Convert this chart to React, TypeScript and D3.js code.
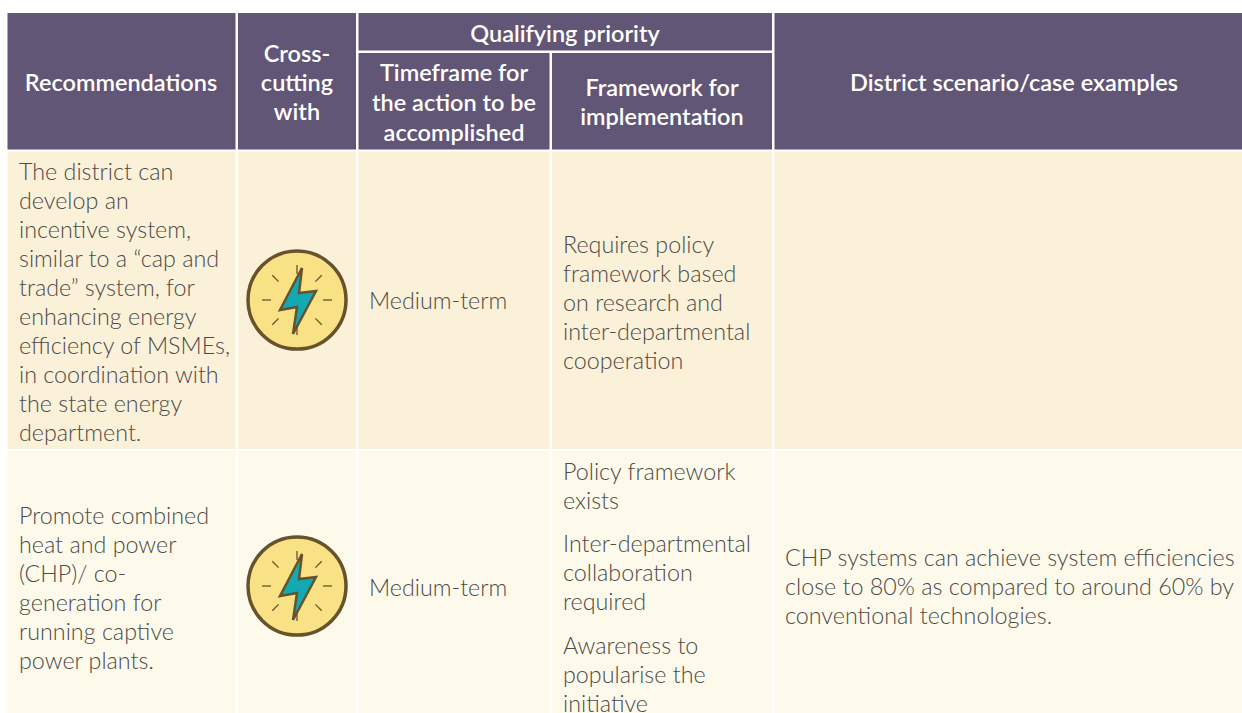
import React, { useRef, useEffect } from "react";
import * as d3 from "d3";

// table content
const headRecommendations = ["Recommendations"];
const headCross = ["Cross-", "cutting", "with"];
const headQualifying = ["Qualifying priority"];
const headTimeframe = ["Timeframe for", "the action to be", "accomplished"];
const headFramework = ["Framework for", "implementation"];
const headDistrict = ["District scenario/case examples"];

const recommendations = [
  [
    "The district can",
    "develop an",
    "incentive system,",
    "similar to a \u201Ccap and",
    "trade\u201D system, for",
    "enhancing energy",
    "efficiency of MSMEs,",
    "in coordination with",
    "the state energy",
    "department.",
  ],
  [
    "Promote combined",
    "heat and power",
    "(CHP)/ co-",
    "generation for",
    "running captive",
    "power plants.",
  ],
];
const timeframes = ["Medium-term", "Medium-term"];
const frameworkRow1 = [
  "Requires policy",
  "framework based",
  "on research and",
  "inter-departmental",
  "cooperation",
];
const frameworkRow2 = [
  ["Policy framework", "exists"],
  ["Inter-departmental", "collaboration", "required"],
  ["Awareness to", "popularise the", "initiative"],
];
const caseRow2 = [
  "CHP systems can achieve system efficiencies",
  "close to 80% as compared to around 60% by",
  "conventional technologies.",
];

const W = 1242;
const H = 713;
const HEAD = "#625676";
const ROW1 = "#fbf1d8";
const ROW2 = "#fefaeb";
const TEXT = "#4d4a48";
const bodyFont = "Lato, sans-serif";
const LH = 29;

const App = () => {
  const ref = useRef<SVGSVGElement>(null);

  useEffect(() => {
    const svg = d3.select(ref.current);
    svg.selectAll("*").remove();

    const colEdges = [7.5, 238, 358.5, 552, 774.5, W + 2];
    const gap = 2.5;
    const headTop = 13;
    const headBottom = 149.5;
    const subTop = 53;
    const row1Top = 151.5;
    const row1Bottom = 449;
    const row2Top = 451;

    const rect = (x0: number, x1: number, y0: number, y1: number, fill: string) =>
      svg
        .append("rect")
        .attr("x", x0)
        .attr("y", y0)
        .attr("width", x1 - x0)
        .attr("height", y1 - y0)
        .attr("fill", fill);

    // header cells
    rect(colEdges[0], colEdges[1] - gap, headTop, headBottom, HEAD);
    rect(colEdges[1], colEdges[2] - gap, headTop, headBottom, HEAD);
    rect(colEdges[2], colEdges[4] - gap, headTop, subTop - gap, HEAD);
    rect(colEdges[2], colEdges[3] - gap, subTop, headBottom, HEAD);
    rect(colEdges[3], colEdges[4] - gap, subTop, headBottom, HEAD);
    rect(colEdges[4], colEdges[5], headTop, headBottom, HEAD);

    // body cells
    d3.range(5).forEach((i) => {
      const x1 = i === 4 ? colEdges[5] : colEdges[i + 1] - gap;
      rect(colEdges[i], x1, row1Top, row1Bottom, ROW1);
      rect(colEdges[i], x1, row2Top, H, ROW2);
    });

    const drawLines = (
      lines: string[],
      x: number,
      firstBaseline: number,
      opts: { anchor?: string; head?: boolean; lh?: number } = {}
    ) => {
      svg
        .append("g")
        .selectAll("text")
        .data(lines)
        .join("text")
        .attr("x", x)
        .attr("y", (_, i) => firstBaseline + i * (opts.lh ?? LH))
        .attr("text-anchor", opts.anchor ?? "start")
        .attr("font-family", bodyFont)
        .attr("font-weight", opts.head ? 600 : 300)
        .attr("font-size", opts.head ? 23.5 : 23.3)
        .attr("fill", opts.head ? "#ffffff" : TEXT)
        .text((d) => d);
    };

    // header text
    drawLines(headRecommendations, 121, 91, { anchor: "middle", head: true });
    drawLines(headCross, 297, 62, { anchor: "middle", head: true, lh: 29 });
    drawLines(headQualifying, 565, 42, { anchor: "middle", head: true });
    drawLines(headTimeframe, 454, 81, { anchor: "middle", head: true, lh: 30 });
    drawLines(headFramework, 662, 96, { anchor: "middle", head: true, lh: 29 });
    drawLines(headDistrict, 1014, 91, { anchor: "middle", head: true });

    // body text
    drawLines(recommendations[0], 19, 180);
    drawLines(recommendations[1], 19, 524);
    drawLines([timeframes[0]], 369, 309);
    drawLines([timeframes[1]], 369, 596);
    drawLines(frameworkRow1, 563, 253);
    drawLines(frameworkRow2[0], 563, 480);
    drawLines(frameworkRow2[1], 563, 552);
    drawLines(frameworkRow2[2], 563, 654);
    drawLines(caseRow2, 785, 566);

    // energy icon
    const boltShape: [number, number][] = [
      [5, -32],
      [2, -7],
      [19, -9],
      [-4, 34],
      [0, 7],
      [-17, 10],
    ];
    const bolt = d3.line().curve(d3.curveLinearClosed);
    const rayAngles = d3.range(8).map((i) => (i * Math.PI) / 4);

    [300, 586].forEach((cy) => {
      const g = svg.append("g").attr("transform", `translate(297,${cy})`);
      g.append("circle")
        .attr("r", 49)
        .attr("fill", "#f8e285")
        .attr("stroke", "#67522e")
        .attr("stroke-width", 3.5);
      g.selectAll("line")
        .data(rayAngles)
        .join("line")
        .attr("x1", (a) => Math.cos(a) * 26)
        .attr("y1", (a) => Math.sin(a) * 26)
        .attr("x2", (a) => Math.cos(a) * 35)
        .attr("y2", (a) => Math.sin(a) * 35)
        .attr("stroke", "#67522e")
        .attr("stroke-width", 1.3);
      g.append("path")
        .attr("d", bolt(boltShape))
        .attr("fill", "#12aab2")
        .attr("stroke", "#67522e")
        .attr("stroke-width", 2.5)
        .attr("stroke-linejoin", "miter");
    });
  }, []);

  return (
    <svg
      ref={ref}
      width={W}
      height={H}
      style={{ position: "absolute", left: 0, top: 0, background: "#fff" }}
    />
  );
};

export default App;
